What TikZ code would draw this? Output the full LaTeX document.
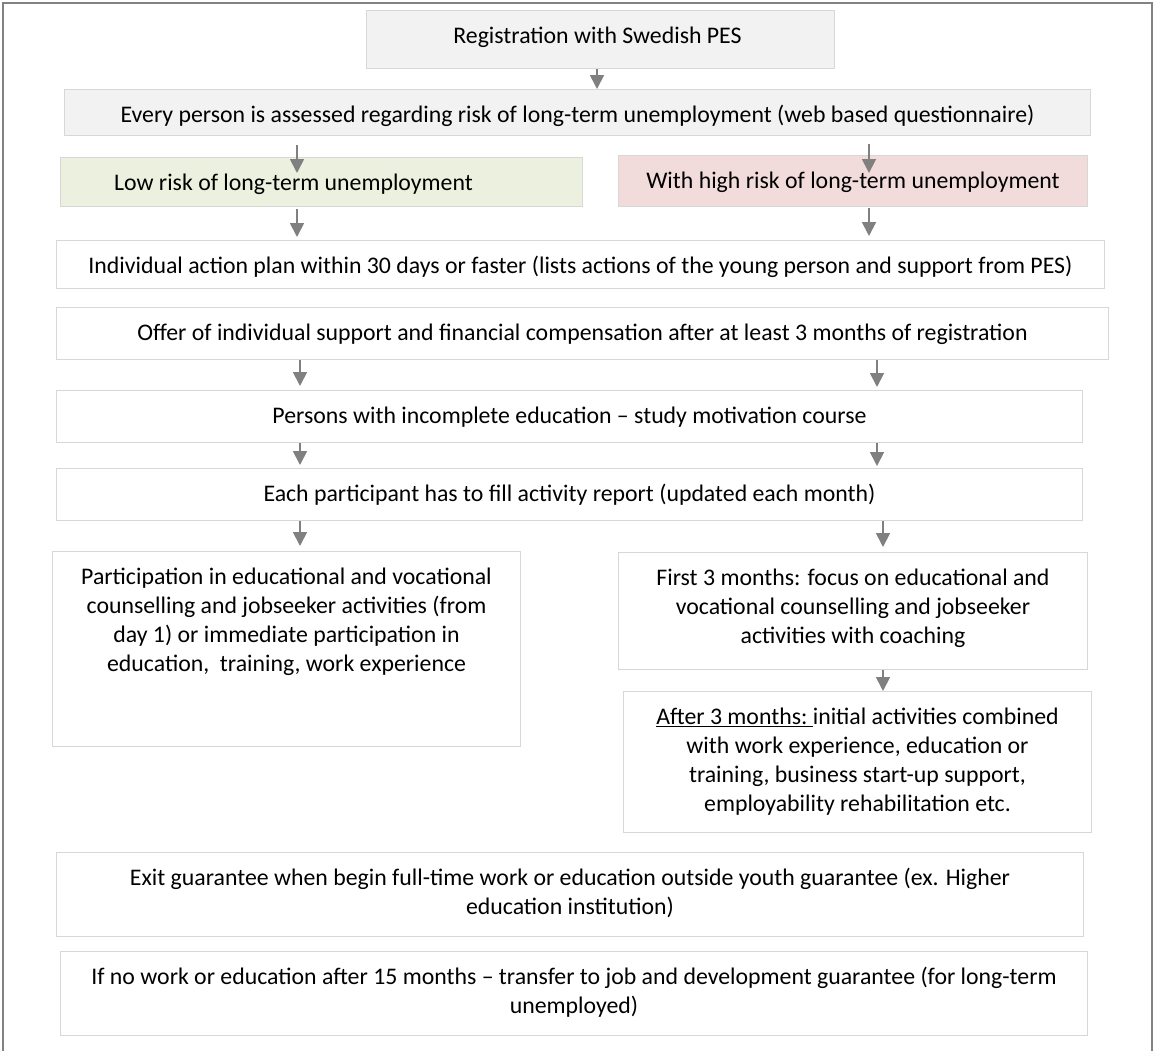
\documentclass[tikz,border=0pt]{standalone}
\usepackage{fontspec}
\setmainfont{Carlito}
\usetikzlibrary{calc,arrows.meta}

\definecolor{boxline}{RGB}{215,215,215}
\definecolor{framegray}{RGB}{130,130,130}
\definecolor{arrowgray}{RGB}{128,128,128}
\definecolor{headfill}{RGB}{242,242,242}
\definecolor{lowfill}{RGB}{235,241,222}
\definecolor{highfill}{RGB}{242,220,219}

% box text: width, height, lines
\newcommand{\boxtext}[3]{\parbox[t][#2pt][t]{#1pt}{\centering\vspace*{13pt}\strut #3}}

\begin{document}
\begin{tikzpicture}[x=1pt,y=-1pt,
  stage/.style={draw=boxline,line width=1pt,inner sep=0pt,anchor=north west,
    font=\fontsize{23.8}{29}\selectfont},
  flow/.style={draw=arrowgray,line width=1.8pt,-{Triangle[width=14pt,length=14pt]}}]
\useasboundingbox (0,0) rectangle (1155,1050);
\draw[framegray,line width=2pt] (2.5,1052) |- (1152,2.5) -- (1152,1052);

% arrow columns
\coordinate (top) at (597,0);
\coordinate (lA) at (297,0);
\coordinate (lB) at (300,0);
\coordinate (rA) at (869,0);
\coordinate (rB) at (877,0);
\coordinate (rC) at (883,0);

\node[stage,fill=headfill] (reg) at (366,10) {\boxtext{468}{58}{Registration with Swedish PES\hspace*{6pt}}};
\node[stage,fill=headfill] (every) at (64,89) {\boxtext{1026}{46}{Every person is assessed regarding risk of long-term unemployment (web based questionnaire)}};
\node[stage,fill=lowfill] (low) at (60,157) {\boxtext{522}{49}{Low risk of long-term unemployment\hspace*{56pt}}};
\node[stage,fill=highfill] (high) at (618,155) {\boxtext{469}{51}{With high risk of long-term unemployment}};
\node[stage] (plan) at (56,240) {\boxtext{1048}{48}{Individual action plan within 30 days or faster (lists actions of the young person and support from PES)}};
\node[stage] (offer) at (56,307) {\boxtext{1052}{52}{Offer of individual support and financial compensation after at least 3 months of registration}};
\node[stage] (persons) at (56,390) {\boxtext{1026}{52}{Persons with incomplete education – study motivation course}};
\node[stage] (each) at (56,468) {\boxtext{1026}{52}{Each participant has to fill activity report (updated each month)}};
\node[stage] (part) at (52,551) {\boxtext{468}{195}{Participation in educational and vocational\\
  counselling and jobseeker activities (from\\
  day 1) or immediate participation in\\
  education,~ training, work experience}};
\node[stage] (first) at (618,552) {\boxtext{469}{117}{First 3 months: focus on educational and\\
  vocational counselling and jobseeker\\
  activities with coaching}};
\node[stage] (after) at (623,691) {\boxtext{468}{141}{\underline{After 3 months:\ }initial activities combined\\
  with work experience, education or\\
  training, business start-up support,\\
  employability rehabilitation etc.}};
\node[stage] (exit) at (56,852) {\boxtext{1027}{84}{Exit guarantee when begin full-time work or education outside youth guarantee (ex. Higher\\
  education institution)}};
\node[stage] (nowork) at (60,951) {\boxtext{1027}{84}{If no work or education after 15 months – transfer to job and development guarantee (for long-term\\
  unemployed)}};

\draw[flow] (reg.south -| top) -- (every.north -| top);
\draw[flow,shorten <=9pt,shorten >=-16pt] (every.south -| lA) -- (low.north -| lA);
\draw[flow,shorten <=8pt,shorten >=-18pt] (every.south -| rA) -- (high.north -| rA);
\draw[flow,shorten <=2pt,shorten >=3pt] (low.south -| lA) -- (plan.north -| lA);
\draw[flow,shorten <=1pt,shorten >=4pt] (high.south -| rA) -- (plan.north -| rA);
\draw[flow,shorten >=4pt] (offer.south -| lB) -- (persons.north -| lB);
\draw[flow,shorten >=3pt] (offer.south -| rB) -- (persons.north -| rB);
\draw[flow,shorten >=3pt] (persons.south -| lB) -- (each.north -| lB);
\draw[flow,shorten >=2pt] (persons.south -| rB) -- (each.north -| rB);
\draw[flow,shorten >=5pt] (each.south -| lB) -- (part.north -| lB);
\draw[flow,shorten >=5pt] (each.south -| rC) -- (first.north -| rC);
\draw[flow] (first.south -| rC) -- (after.north -| rC);
\end{tikzpicture}
\end{document}
